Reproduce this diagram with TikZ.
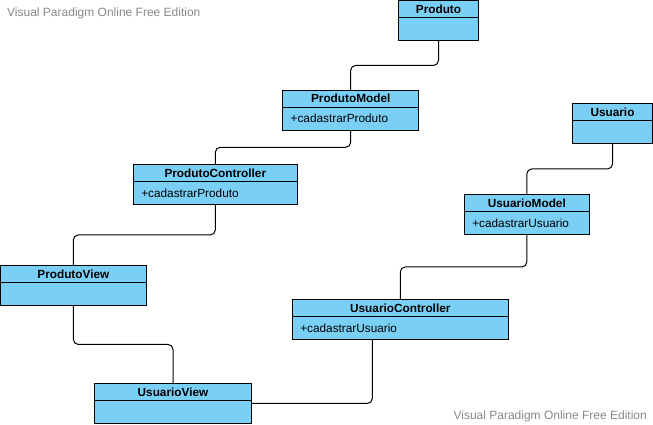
\documentclass[tikz,border=0pt]{standalone}
\usepackage{fontspec}
\setmainfont{Liberation Sans}
\usetikzlibrary{positioning,calc}
\definecolor{vpblue}{RGB}{122,207,245}
\definecolor{vpgray}{RGB}{136,136,136}
\begin{document}
\begin{tikzpicture}[x=1pt,y=-1pt,
    hdr/.style={draw,fill=vpblue,line width=1pt,anchor=north west,minimum height=17pt,inner sep=0pt,outer sep=0pt,font=\fontsize{11.8}{14}\selectfont\bfseries},
    bdy/.style={draw,fill=vpblue,line width=1pt,minimum height=23.3pt,inner xsep=8pt,inner ysep=0pt,outer sep=0pt,align=left,font=\fontsize{11.8}{14}\selectfont},
    link/.style={line width=1pt,rounded corners=5pt},
    wm/.style={text=vpgray,inner sep=0pt,font=\fontsize{12}{14}\selectfont}]
    \useasboundingbox (0,0) rectangle (653,424);

    \node[wm,anchor=base west] (wm-top) at (7,16) {Visual Paradigm Online Free Edition};
    \node[wm,anchor=base east] (wm-bot) at (647,419) {Visual Paradigm Online Free Edition};

    \node[hdr,minimum width=80.4pt] (produto) at (398.3,0.5) {Produto};
    \node[bdy,text width=64.4pt,below=0pt of produto] (produto-b) {};
    \node[hdr,minimum width=136pt] (pmodel) at (282.7,90) {ProdutoModel};
    \node[bdy,text width=120pt,below=0pt of pmodel] (pmodel-b) {+cadastrarProduto};
    \node[hdr,minimum width=164pt] (pctrl) at (133.3,164.3) {ProdutoController};
    \node[bdy,text width=148pt,below=0pt of pctrl] (pctrl-b) {+cadastrarProduto};
    \node[hdr,minimum width=145.3pt] (pview) at (0.7,265.3) {ProdutoView};
    \node[bdy,text width=129.3pt,below=0pt of pview] (pview-b) {};
    \node[hdr,minimum width=157.4pt] (uview) at (94.3,383.3) {UsuarioView};
    \node[bdy,text width=141.4pt,below=0pt of uview] (uview-b) {};
    \node[hdr,minimum width=216pt] (uctrl) at (292.3,299.3) {UsuarioController};
    \node[bdy,text width=200pt,below=0pt of uctrl] (uctrl-b) {+cadastrarUsuario};
    \node[hdr,minimum width=125pt] (umodel) at (464.3,194.3) {UsuarioModel};
    \node[bdy,text width=109pt,below=0pt of umodel] (umodel-b) {+cadastrarUsuario};
    \node[hdr,minimum width=79.6pt] (usuario) at (572.7,103.3) {Usuario};
    \node[bdy,text width=63.6pt,below=0pt of usuario] (usuario-b) {};

    \foreach \a/\b in {produto/pmodel,pmodel/pctrl,pctrl/pview,pview/uview,usuario/umodel,umodel/uctrl}{
        \coordinate (m) at ($(\a-b.south)!.5!(\b.north)$);
        \draw[link] (\a-b.south) -- (\a-b.south |- m) -- (\b.north |- m) -- (\b.north);
    }
    \draw[link] ([xshift=-28pt]uctrl-b.south) |- ($(uview.north east)!.5!(uview-b.south east)$);
\end{tikzpicture}
\end{document}
